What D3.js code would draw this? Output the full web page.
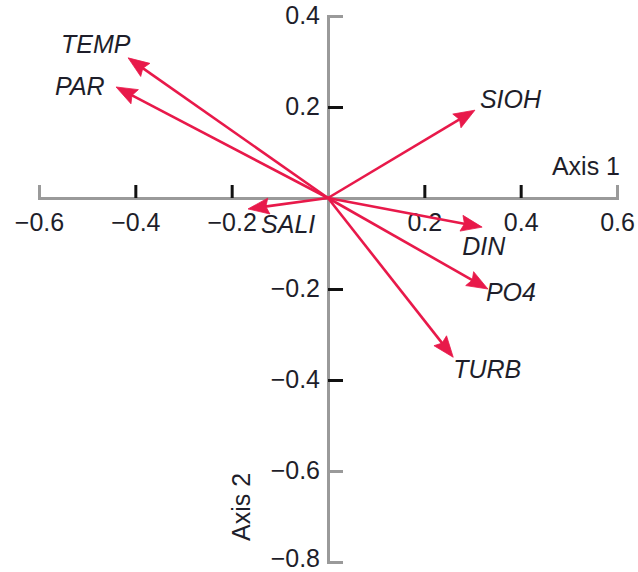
<!DOCTYPE html>
<html>
<head>
<meta charset="utf-8">
<script src="https://cdn.jsdelivr.net/npm/d3@7"></script>
<style>
  html, body { margin: 0; padding: 0; background: #fff; }
  svg { display: block; font-family: "Liberation Sans", Arial, Helvetica, sans-serif; }
</style>
</head>
<body>
<svg id="chart" width="638" height="572"></svg>
<script>
// ---- data ----
const variables = ["TEMP", "PAR", "SIOH", "SALI", "DIN", "PO4", "TURB"];
const axis1Loadings = [-0.415, -0.44, 0.305, -0.166, 0.32, 0.332, 0.26];
const axis2Loadings = [0.308, 0.244, 0.193, -0.024, -0.064, -0.2, -0.35];
const xTickValues = [-0.6, -0.4, -0.2, 0.2, 0.4, 0.6];
const yTickValues = [0.4, 0.2, -0.2, -0.4, -0.6, -0.8];
const xAxisTitle = "Axis 1";
const yAxisTitle = "Axis 2";

// ---- layout ----
const labelOffset = {
  TEMP: [-67, -5], PAR: [-61, 8], SIOH: [5, -2], SALI: [13, 24],
  DIN: [-20, 28], PO4: [-2, 12], TURB: [0, 21]
};
const red = "#e8194a";
const axisGrey = "#9a9a9a";
const textColor = "#1e1e2a";

const svg = d3.select("#chart");
const x = d3.scaleLinear().domain([-0.6, 0.6]).range([39, 617]);
const y = d3.scaleLinear().domain([-0.8, 0.4]).range([562, 16]);
const fmt = d => d3.format(".1f")(d);

// x axis (through y=0)
const gx = svg.append("g").attr("transform", `translate(0,${y(0)})`)
  .call(d3.axisBottom(x).tickValues(xTickValues).tickFormat(fmt)
        .tickSizeInner(-13).tickSizeOuter(-13).tickPadding(15));
// y axis (through x=0)
const gy = svg.append("g").attr("transform", `translate(${x(0)},0)`)
  .call(d3.axisLeft(y).tickValues(yTickValues).tickFormat(fmt)
        .tickSizeInner(-15).tickSizeOuter(-15).tickPadding(8));

[gx, gy].forEach(g => {
  g.select(".domain").attr("stroke", axisGrey).attr("stroke-width", 3).attr("fill", "none");
  g.selectAll(".tick line").attr("stroke", d => (d === 0.6 || d === -0.6 || d === 0.4 && g === gy || d === -0.8) ? axisGrey : "#111")
    .attr("stroke-width", 3);
  g.selectAll(".tick text").attr("fill", textColor).style("font-size", "25px");
  g.attr("font-family", null).attr("font-size", null);
});
gy.selectAll(".tick text").attr("dy", d => d === -0.8 ? "0.17em" : "0.3em");

// axis titles
svg.append("text").attr("x", 620).attr("y", 175).attr("text-anchor", "end")
  .attr("fill", textColor).style("font-size", "25px").text(xAxisTitle);
svg.append("text").attr("transform", `translate(250,507) rotate(-90)`).attr("text-anchor", "middle")
  .attr("fill", textColor).style("font-size", "25px").text(yAxisTitle);

// vectors
const vectors = variables.map((v, i) => ({ name: v, px: x(axis1Loadings[i]), py: y(axis2Loadings[i]) }));
const ox = x(0), oy = y(0);
const headLen = 21, headHalf = 8;

const gv = svg.append("g");
vectors.forEach(d => {
  const dx = d.px - ox, dy = d.py - oy;
  const len = Math.hypot(dx, dy);
  const ux = dx / len, uy = dy / len;
  const bx = d.px - ux * headLen, by = d.py - uy * headLen;
  gv.append("line").attr("x1", ox).attr("y1", oy)
    .attr("x2", bx + ux * 4).attr("y2", by + uy * 4)
    .attr("stroke", red).attr("stroke-width", 2.6);
  gv.append("path")
    .attr("d", `M${d.px},${d.py}L${bx - uy * headHalf},${by + ux * headHalf}L${bx + ux * 3},${by + uy * 3}L${bx + uy * headHalf},${by - ux * headHalf}Z`)
    .attr("fill", red).attr("stroke", red).attr("stroke-width", 0.8).attr("stroke-linejoin", "miter");
  const off = labelOffset[d.name];
  svg.append("text").attr("x", d.px + off[0]).attr("y", d.py + off[1])
    .attr("fill", textColor).style("font-size", "25px").style("font-style", "italic")
    .text(d.name);
});
</script>
</body>
</html>
